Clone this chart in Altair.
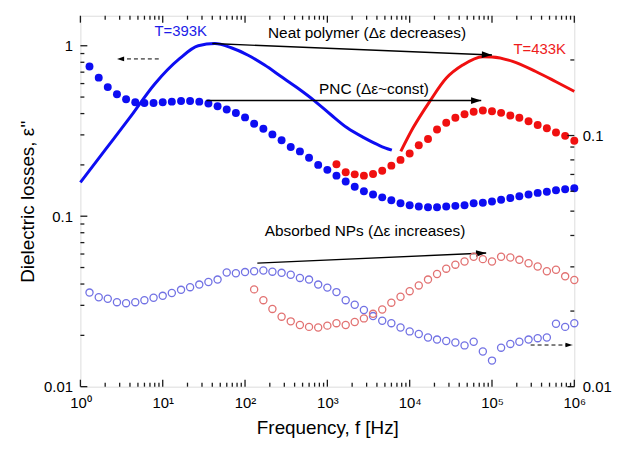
import altair as alt
import pandas as pd

FONT = "Liberation Sans"

# measurement frequencies (9 points per decade)
FREQ = [1.29, 1.67, 2.15, 2.78, 3.59, 4.64, 5.99, 7.74, 10,
        12.9, 16.7, 21.5, 27.8, 35.9, 46.4, 59.9, 77.4, 100,
        129, 167, 215, 278, 359, 464, 599, 774, 1000,
        1290, 1670, 2150, 2780, 3590, 4640, 5990, 7740, 10000,
        12900, 16700, 21500, 27800, 35900, 46400, 59900, 77400, 100000,
        129000, 167000, 215000, 278000, 359000, 464000, 599000, 774000, 1000000]

# PNC, filled dots (left axis)
BLUE_FILLED = [0.755, 0.65, 0.572, 0.52, 0.486, 0.466, 0.462, 0.462, 0.466,
               0.47, 0.474, 0.474, 0.47, 0.458, 0.442, 0.423, 0.403, 0.38,
               0.349, 0.326, 0.302, 0.279, 0.255, 0.24, 0.22, 0.2, 0.187,
               0.173, 0.16, 0.149, 0.14, 0.134, 0.129, 0.124, 0.119, 0.116,
               0.114, 0.113, 0.113, 0.114, 0.115, 0.116, 0.119, 0.12, 0.122,
               0.125, 0.128, 0.131, 0.134, 0.137, 0.139, 0.142, 0.144, 0.146]
RED_FILLED = [0.202, 0.181, 0.176, 0.173, 0.177, 0.185, 0.198, 0.214, 0.233,
              0.261, 0.284, 0.323, 0.353, 0.378, 0.396, 0.41, 0.417, 0.413,
              0.404, 0.39, 0.378, 0.361, 0.343, 0.328, 0.31, 0.296, 0.277]

# Absorbed NPs, open circles (right axis)
BLUE_OPEN = [0.0237, 0.0227, 0.0224, 0.0217, 0.0215, 0.0217, 0.0221, 0.0226, 0.0230,
             0.0236, 0.0243, 0.0249, 0.0255, 0.0261, 0.0267, 0.0285, 0.0283, 0.0286,
             0.0288, 0.0290, 0.0287, 0.0284, 0.0279, 0.0271, 0.0267, 0.0255, 0.0248,
             0.0238, 0.0221, 0.0212, 0.0202, 0.0191, 0.0183, 0.0179, 0.0172, 0.0166,
             0.0162, 0.0157, 0.0154, 0.0152, 0.0150, 0.0146, 0.0151, 0.0138, 0.0127,
             0.0143, 0.0148, 0.0151, 0.0154, 0.0156, 0.0157, 0.0178, 0.0173, 0.0179]
RED_OPEN = [0.0244, 0.0221, 0.0204, 0.0190, 0.0182, 0.0176, 0.0173, 0.0172, 0.0175,
            0.0179, 0.0176, 0.0181, 0.0187, 0.0195, 0.0203, 0.0216, 0.0228, 0.0240,
            0.0253, 0.0267, 0.0281, 0.0295, 0.0306, 0.0315, 0.0329, 0.0322, 0.0315,
            0.0329, 0.0327, 0.0320, 0.0310, 0.0301, 0.0288, 0.0292, 0.0275, 0.0266]

# Neat polymer, solid lines (left axis)
BLUE_LINE_F = [1, 2, 4, 8, 16, 27, 43, 68, 109, 173, 274, 435, 692, 1097, 1740, 2770, 4370, 6070]
BLUE_LINE_V = [0.158, 0.245, 0.38, 0.597, 0.84, 1.0, 1.03, 0.973, 0.88, 0.77, 0.66, 0.565,
               0.477, 0.395, 0.33, 0.289, 0.259, 0.244]
RED_LINE_F = [7800, 11000, 17600, 27900, 44000, 77000, 100000, 178000, 340000, 590000, 1000000]
RED_LINE_V = [0.24, 0.33, 0.473, 0.646, 0.77, 0.863, 0.86, 0.81, 0.706, 0.617, 0.54]

# annotations (left-axis units)
ARROW_X0 = [40, 34, 141]
ARROW_Y0 = [1.03, 0.477, 0.0531]
ARROW_X1 = [100000, 74000, 85000]
ARROW_Y1 = [0.883, 0.477, 0.0608]
ARROW_ANG = [2.2, 0, 357.5]
DASH_X0 = [8.95, 295000]
DASH_X1 = [2.79, 950000]
DASH_Y = [0.837, 0.01755]
DASH_ANG = [180, 0]

LABEL_TEXT = ["T=393K", "T=433K"]
LABEL_X = [16.5, 379000]
LABEL_Y = [1.22, 0.96]
LABEL_COLOR = ["#1c1ce8", "#ee1c1c"]
NOTE_TEXT = ["Neat polymer (\u0394\u03b5 decreases)", "PNC (\u0394\u03b5~const)",
             "Absorbed NPs (\u0394\u03b5 increases)"]
NOTE_X = [3035, 3683, 2870]
NOTE_Y = [1.18, 0.555, 0.0814]

X_MAJOR = [1, 10, 100, 1000, 10000, 100000, 1000000]
X_MINOR = [2, 3, 4, 5, 6, 7, 8, 9,
           20, 30, 40, 50, 60, 70, 80, 90,
           200, 300, 400, 500, 600, 700, 800, 900,
           2000, 3000, 4000, 5000, 6000, 7000, 8000, 9000,
           20000, 30000, 40000, 50000, 60000, 70000, 80000, 90000,
           200000, 300000, 400000, 500000, 600000, 700000, 800000, 900000]
X_LABELS = ["10\u2070", "10\u00b9", "10\u00b2", "10\u00b3", "10\u2074", "10\u2075", "10\u2076"]
YL_MAJOR = [0.01, 0.1, 1]
YL_MINOR = [0.02, 0.03, 0.04, 0.05, 0.06, 0.07, 0.08, 0.09,
            0.2, 0.3, 0.4, 0.5, 0.6, 0.7, 0.8, 0.9]
YR_MAJOR = [0.01, 0.1]
YR_MINOR = [0.02, 0.03, 0.04, 0.05, 0.06, 0.07, 0.08, 0.09, 0.2]

LOGV = "round(log(datum.value)/LN10)"
X_LABEL_EXPR = "[" + ",".join("'" + s + "'" for s in X_LABELS) + "][" + LOGV + "]"

W, H = 498, 374
MAJ, MIN = 7, 4
TICK_COLOR = "#1a1a1a"

x_scale = alt.Scale(type="log", domain=[1, 1000000], nice=False)
yl_scale = alt.Scale(type="log", domain=[0.01, 1.5], nice=False)
yr_scale = alt.Scale(type="log", domain=[0.01, 0.3], nice=False)

common = dict(domain=False, grid=False, ticks=False, tickSize=0, labelOverlap=False, labelFlush=False)

ax_x_bottom = alt.Axis(orient="bottom", values=X_MAJOR, labelExpr=X_LABEL_EXPR,
                       labelPadding=9, labelFontSize=15,
                       title="Frequency, f [Hz]", titleFontSize=19, titleFontWeight="normal",
                       titlePadding=8, **common)
ax_yl = alt.Axis(orient="left", values=YL_MAJOR,
                 labelExpr=f"{LOGV} == 0 ? '1' : {LOGV} == -1 ? '0.1' : '0.01'",
                 labelPadding=8, labelFontSize=15,
                 title="Dielectric losses, \u03b5''", titleFontSize=19, titleFontWeight="normal",
                 titlePadding=6, **common)
ax_yr = alt.Axis(orient="right", values=YR_MAJOR,
                 labelExpr=f"{LOGV} == -1 ? '0.1' : '0.01'",
                 labelPadding=8, labelFontSize=15, title=None, **common)


def xl(f):
    return alt.X(f, type="quantitative", scale=x_scale, axis=ax_x_bottom)


def xn(f):
    return alt.X(f, type="quantitative", scale=x_scale, axis=None)


def ylf(f):
    return alt.Y(f, type="quantitative", scale=yl_scale, axis=ax_yl)


def yrf(f):
    return alt.Y(f, type="quantitative", scale=yr_scale, axis=ax_yr)


def yq(f, sc):
    return alt.Y(f, type="quantitative", scale=sc, axis=None)


BLUE = "#0d0df2"
RED = "#f01010"
BLUE_O = "#7272e4"
RED_O = "#e27272"

df_bl = pd.DataFrame({"f": BLUE_LINE_F, "v": BLUE_LINE_V})
df_rl = pd.DataFrame({"f": RED_LINE_F, "v": RED_LINE_V})
df_bf = pd.DataFrame({"f": FREQ, "v": BLUE_FILLED})
df_rf = pd.DataFrame({"f": FREQ[27:], "v": RED_FILLED})
df_bo = pd.DataFrame({"f": FREQ, "v": BLUE_OPEN})
df_ro = pd.DataFrame({"f": FREQ[18:], "v": RED_OPEN})
df_ar = pd.DataFrame({"x0": ARROW_X0, "y0": ARROW_Y0, "x1": ARROW_X1, "y1": ARROW_Y1, "ang": ARROW_ANG})
df_da = pd.DataFrame({"x0": DASH_X0, "x1": DASH_X1, "y0": DASH_Y, "y1": DASH_Y, "ang": DASH_ANG})
df_lab = pd.DataFrame({"x": LABEL_X, "y": LABEL_Y, "txt": LABEL_TEXT, "c": LABEL_COLOR})
df_note = pd.DataFrame({"x": NOTE_X, "y": NOTE_Y, "txt": NOTE_TEXT})

HEAD = "M0,0L-1,-0.33L-1,0.33Z"

blue_line = alt.Chart(df_bl).mark_line(color=BLUE, strokeWidth=3, interpolate="monotone").encode(x=xl("f"), y=ylf("v"))
red_line = alt.Chart(df_rl).mark_line(color=RED, strokeWidth=3, interpolate="monotone").encode(x=xl("f"), y=ylf("v"))
blue_dots = alt.Chart(df_bf).mark_circle(color=BLUE, size=64, opacity=1).encode(x=xl("f"), y=ylf("v"))
red_dots = alt.Chart(df_rf).mark_circle(color=RED, size=64, opacity=1).encode(x=xl("f"), y=ylf("v"))

arrows = alt.Chart(df_ar).mark_rule(color="black", strokeWidth=1.4).encode(
    x=xl("x0"), y=ylf("y0"), x2="x1", y2="y1")
arrow_heads = alt.Chart(df_ar).mark_point(shape=HEAD, filled=True, color="black", size=420, opacity=1, strokeWidth=0).encode(
    x=xl("x1"), y=ylf("y1"), angle=alt.Angle("ang:Q", scale=None))
dashes = alt.Chart(df_da).mark_rule(color="black", strokeWidth=1, strokeDash=[4, 3]).encode(
    x=xl("x0"), y=ylf("y0"), x2="x1", y2="y1")
dash_heads = alt.Chart(df_da).mark_point(shape=HEAD, filled=True, color="black", size=200, opacity=1, strokeWidth=0).encode(
    x=xl("x1"), y=ylf("y1"), angle=alt.Angle("ang:Q", scale=None))
labels = alt.Chart(df_lab).mark_text(font=FONT, fontSize=15).encode(
    x=xl("x"), y=ylf("y"), text="txt:N", color=alt.Color("c:N", scale=None))
notes = alt.Chart(df_note).mark_text(font=FONT, fontSize=15.5, color="black").encode(
    x=xl("x"), y=ylf("y"), text="txt:N")

left_group = alt.layer(blue_line, red_line, blue_dots, red_dots, arrows, arrow_heads,
                       dashes, dash_heads, labels, notes)

blue_open = alt.Chart(df_bo).mark_point(color=BLUE_O, filled=False, size=52, strokeWidth=1.3, opacity=1).encode(
    x=xn("f"), y=yrf("v"))
red_open = alt.Chart(df_ro).mark_point(color=RED_O, filled=False, size=52, strokeWidth=1.3, opacity=1).encode(
    x=xn("f"), y=yrf("v"))
right_group = alt.layer(blue_open, red_open)

# --- inward tick marks, placed through the scales (top level layers, no axes) ---
tick_layers = []
for vals, ln in [(X_MAJOR, MAJ), (X_MINOR, MIN)]:
    d = pd.DataFrame({"tv": vals})
    tick_layers.append(alt.Chart(d).mark_rule(color=TICK_COLOR, strokeWidth=1.3).encode(
        x=xn("tv"), y=alt.value(H), y2=alt.value(H - ln)))
    tick_layers.append(alt.Chart(d).mark_rule(color=TICK_COLOR, strokeWidth=1.3).encode(
        x=xn("tv"), y=alt.value(0), y2=alt.value(ln)))
for vals, ln in [(YL_MAJOR, MAJ), (YL_MINOR, MIN)]:
    d = pd.DataFrame({"tv": vals})
    tick_layers.append(alt.Chart(d).mark_rule(color=TICK_COLOR, strokeWidth=1.3).encode(
        y=yq("tv", yl_scale), x=alt.value(0), x2=alt.value(ln)))
for vals, ln in [(YR_MAJOR, MAJ), (YR_MINOR, MIN)]:
    d = pd.DataFrame({"tv": vals})
    tick_layers.append(alt.Chart(d).mark_rule(color=TICK_COLOR, strokeWidth=1.3).encode(
        y=yq("tv", yr_scale), x=alt.value(W), x2=alt.value(W - ln)))

chart = alt.layer(left_group, right_group, *tick_layers).resolve_scale(
    y="independent"
).resolve_axis(
    x="independent", y="independent"
).properties(
    width=W, height=H,
    autosize=alt.AutoSizeParams(type="none"),
    padding={"left": 73, "top": 6, "right": 38, "bottom": 55},
).configure_view(
    stroke="#1a1a1a", strokeWidth=1.6
).configure_axis(
    labelFont=FONT, titleFont=FONT, labelColor="#222", titleColor="#222"
).configure(font=FONT)

chart.save("out.html", embed_options={"renderer": "svg", "actions": False})
